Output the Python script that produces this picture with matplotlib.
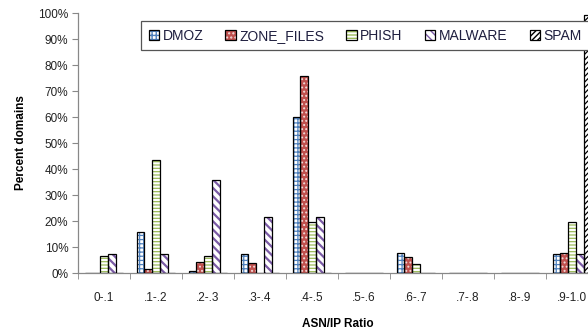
import matplotlib
matplotlib.use("Agg")
import matplotlib.pyplot as plt
import numpy as np

plt.rcParams['font.family'] = ['Liberation Sans', 'DejaVu Sans']
plt.rcParams['hatch.linewidth'] = 1.0

categories = ["0-.1", ".1-.2", ".2-.3", ".3-.4", ".4-.5", ".5-.6", ".6-.7", ".7-.8", ".8-.9", ".9-1.0"]
dmoz       = [0, 15.6, 0.8, 7.2, 60.0, 0, 7.6, 0, 0, 7.2]
zone_files = [0, 1.7, 4.1, 3.7, 75.7, 0, 6.2, 0, 0, 7.6]
phish      = [6.4, 43.5, 6.4, 0, 19.8, 0, 3.5, 0, 0, 19.8]
malware    = [7.2, 7.2, 35.9, 21.6, 21.6, 0, 0, 0, 0, 7.2]
spam       = [0, 0, 0, 0, 0, 0, 0, 0, 0, 99.2]
series_names = ["DMOZ", "ZONE_FILES", "PHISH", "MALWARE", "SPAM"]
series = [dmoz, zone_files, phish, malware, spam]

styles = [
    dict(face='white', hatch='++++', hcol='#4F81BD', hlw=0.9),
    dict(face='#C0504D', hatch='....', hcol='#F2DCDB', hlw=0.9),
    dict(face='white', hatch='-----', hcol='#9BBB59', hlw=0.9),
    dict(face='white', hatch='\\\\\\\\', hcol='#7B5BA6', hlw=1.6),
    dict(face='white', hatch='//////', hcol='black', hlw=0.9),
]

fig = plt.figure(figsize=(5.88, 3.33), dpi=100)
ax = fig.add_axes([78/588, 1-273/333, 520/588, 260/333])

x = np.arange(len(categories))
w = 0.148
handles = []
for i, (name, vals, st) in enumerate(zip(series_names, series, styles)):
    pos = x + (i - 2) * w
    with plt.rc_context({'hatch.linewidth': st['hlw']}):
        ax.bar(pos, vals, w, color=st['face'], hatch=st['hatch'], edgecolor=st['hcol'], linewidth=0, zorder=2)
        h1 = plt.Rectangle((0, 0), 1, 1, facecolor=st['face'], hatch=st['hatch'], edgecolor=st['hcol'], linewidth=0)
    ax.bar(pos, vals, w, fill=False, edgecolor='black', linewidth=0.9, zorder=3)
    h2 = plt.Rectangle((0, 0), 1, 1, fill=False, edgecolor='black', linewidth=0.9)
    handles.append((h1, h2))

ax.set_xlim(-0.5, len(categories) - 0.5)
ax.set_ylim(0, 100)
ax.set_yticks(np.arange(0, 101, 10))
ax.set_yticklabels([f"{v}%" for v in range(0, 101, 10)], fontsize=8.5, color='#222222')
ax.set_xticks(x)
ax.set_xticklabels(categories, fontsize=8.5, color='#222222')
ax.set_xticks(np.arange(-0.5, len(categories), 1), minor=True)
ax.tick_params(axis='x', which='major', length=0, pad=14)
ax.tick_params(axis='x', which='minor', length=4, color='#888888', direction='out')
ax.tick_params(axis='y', length=4, color='#888888', direction='out', pad=3)
for s in ['top', 'right']:
    ax.spines[s].set_visible(False)
for s in ['left', 'bottom']:
    ax.spines[s].set_color('#888888')
    ax.spines[s].set_linewidth(0.9)

ax.set_xlabel("ASN/IP Ratio", fontsize=8.5, fontweight='bold', labelpad=10)
ax.set_ylabel("Percent domains", fontsize=8.5, fontweight='bold', labelpad=8)

leg = ax.legend(handles, series_names, loc='upper left', bbox_to_anchor=(134/588, 1-14/333),
                bbox_transform=fig.transFigure, ncol=5, fontsize=10, frameon=True, fancybox=False,
                handlelength=0.75, handleheight=0.75, handletextpad=0.25, columnspacing=1.6,
                borderpad=0.55, edgecolor='#555555', framealpha=1, labelcolor='#1F1F3F')
leg.get_frame().set_linewidth(0.9)

fig.savefig("out.png", dpi=100)
